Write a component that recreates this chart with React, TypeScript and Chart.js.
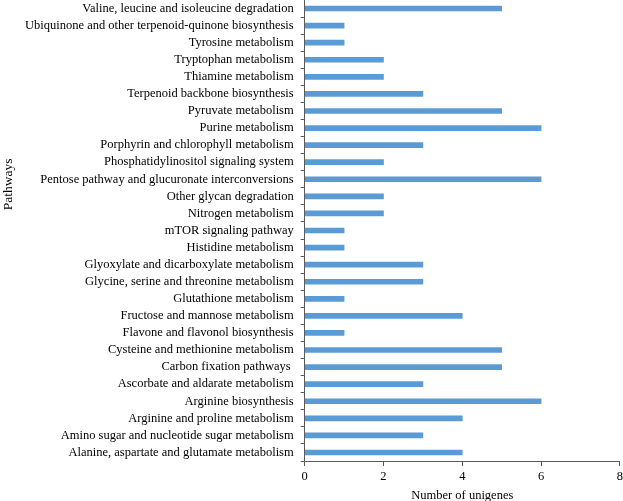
import React, { useEffect, useRef } from "react";
import { Chart, registerables } from "chart.js";

Chart.register(...registerables);

const pathways: string[] = [
  "Valine, leucine and isoleucine degradation",
  "Ubiquinone and other terpenoid-quinone biosynthesis",
  "Tyrosine metabolism",
  "Tryptophan metabolism",
  "Thiamine metabolism",
  "Terpenoid backbone biosynthesis",
  "Pyruvate metabolism",
  "Purine metabolism",
  "Porphyrin and chlorophyll metabolism",
  "Phosphatidylinositol signaling system",
  "Pentose pathway and glucuronate interconversions",
  "Other glycan degradation",
  "Nitrogen metabolism",
  "mTOR signaling pathway",
  "Histidine metabolism",
  "Glyoxylate and dicarboxylate metabolism",
  "Glycine, serine and threonine metabolism",
  "Glutathione metabolism",
  "Fructose and mannose metabolism",
  "Flavone and flavonol biosynthesis",
  "Cysteine and methionine metabolism",
  "Carbon fixation pathways ",
  "Ascorbate and aldarate metabolism",
  "Arginine biosynthesis",
  "Arginine and proline metabolism",
  "Amino sugar and nucleotide sugar metabolism",
  "Alanine, aspartate and glutamate metabolism",
];

const unigenes: number[] = [
  5, 1, 1, 2, 2, 3, 5, 6, 3, 2, 6, 2, 2, 1, 1, 3, 3, 1, 4, 1, 5, 5, 3, 6, 4, 3, 4,
];

const xTicks: number[] = [0, 2, 4, 6, 8];

const yTitle = "Pathways";

const FAMILY = "'Liberation Serif', 'Times New Roman', serif";

const yTitlePlugin = {
  id: "yTitlePlugin",
  afterDraw(chart: any) {
    const ctx = chart.ctx;
    const area = chart.chartArea;
    ctx.save();
    ctx.font = `13.5px ${FAMILY}`;
    ctx.fillStyle = "#000";
    ctx.textAlign = "center";
    ctx.textBaseline = "middle";
    ctx.translate(8, area.top + (area.bottom - area.top) * 0.4);
    ctx.rotate(-Math.PI / 2);
    ctx.fillText(yTitle, 0, 0);
    ctx.restore();
  },
};

export default function App() {
  const ref = useRef<HTMLCanvasElement | null>(null);

  useEffect(() => {
    if (!ref.current) return;
    const font = { family: FAMILY, size: 12.5 };
    const chart = new Chart(ref.current, {
      type: "bar",
      data: {
        labels: pathways,
        datasets: [
          {
            data: unigenes,
            backgroundColor: "#5B9BD5",
            borderWidth: 0,
            barThickness: 5,
          },
        ],
      },
      plugins: [yTitlePlugin],
      options: {
        indexAxis: "y",
        responsive: false,
        animation: false,
        layout: { padding: { top: 0, right: 0, bottom: -2, left: 18 } },
        plugins: { legend: { display: false }, tooltip: { enabled: false } },
        scales: {
          x: {
            min: xTicks[0],
            max: xTicks[xTicks.length - 1],
            afterBuildTicks: (axis: any) => {
              axis.ticks = xTicks.map((v) => ({ value: v }));
            },
            grid: {
              drawOnChartArea: false,
              drawTicks: true,
              tickLength: 5,
              color: "#595959",
            },
            border: { display: true, color: "#595959", width: 1 },
            ticks: { color: "#000", font, padding: 3, maxRotation: 0 },
            title: {
              display: true,
              text: "Number of unigenes",
              color: "#000",
              font,
              padding: { top: 1, bottom: 0 },
            },
          },
          y: {
            afterFit: (axis: any) => {
              axis.paddingTop = 0;
              axis.paddingBottom = 0;
            },
            grid: {
              drawOnChartArea: false,
              drawTicks: true,
              tickLength: 4,
              offset: true,
              color: "#595959",
            },
            border: { display: true, color: "#595959", width: 1 },
            ticks: { color: "#000", font, padding: 7, autoSkip: false },
            title: { display: false },
          },
        },
      },
    });
    return () => chart.destroy();
  }, []);

  return (
    <div
      style={{
        position: "absolute",
        left: 0,
        top: 0,
        width: 623,
        height: 501,
        overflow: "hidden",
        background: "#fff",
      }}
    >
      <canvas ref={ref} width={626} height={501} style={{ display: "block" }} />
    </div>
  );
}
